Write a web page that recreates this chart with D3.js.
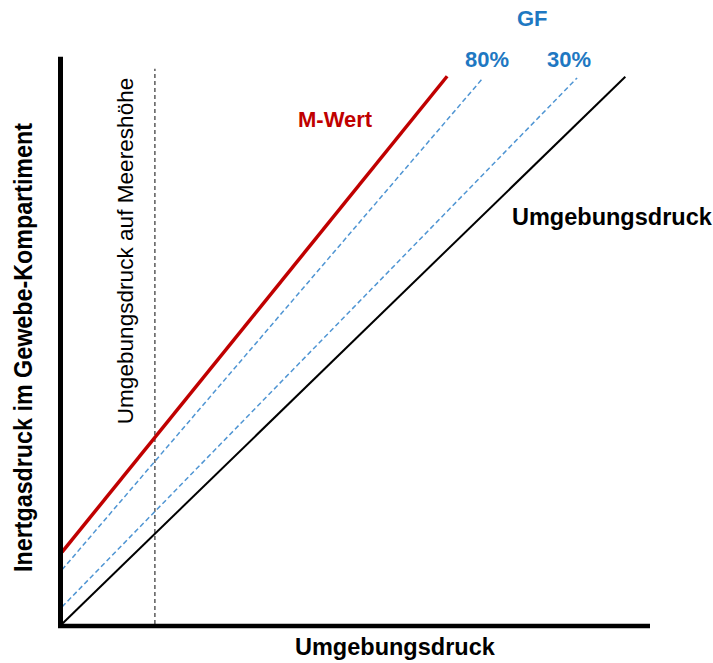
<!DOCTYPE html>
<html lang="de">
<head>
  <meta charset="UTF-8" />
  <title>M-Wert und Gradientenfaktoren</title>
  <script src="https://d3js.org/d3.v7.min.js"></script>
  <style>
    body {
      margin: 0;
      padding: 0;
      background: #fff;
      font-family: "Liberation Sans", Arial, sans-serif;
    }
    .lbl { font-weight: bold; }
  </style>
</head>
<body>
  <div id="chart"></div>

  <script>
    const width = 713;
    const height = 663;

    // line end points in data units (ambient pressure, tissue pressure)
    const ambientLine = [[0, 0], [9.58, 9.6]];
    const mValueLine = [[0, 1.26], [6.55, 9.61]];
    const gfLines = [
      { label: "80%", points: [[0, 0.95], [7.16, 9.58]] },
      { label: "30%", points: [[0, 0.30], [8.76, 9.58]] }
    ];
    const seaLevel = 1.58;
    const seaLevelTop = 9.74;

    const blue = "#1e78c2";
    const red = "#c00000";

    const svg = d3.select("#chart")
      .append("svg")
      .attr("width", width)
      .attr("height", height);

    const x = d3.scaleLinear().domain([0, 10]).range([62, 650]);
    const y = d3.scaleLinear().domain([0, 10]).range([624, 54]);

    const line = d3.line()
      .x(d => x(d[0]))
      .y(d => y(d[1]));

    // sea level marker
    svg.append("line")
      .attr("x1", x(seaLevel)).attr("x2", x(seaLevel))
      .attr("y1", y(0)).attr("y2", y(seaLevelTop))
      .attr("stroke", "#333")
      .attr("stroke-width", 1.2)
      .attr("stroke-dasharray", "4,3");

    // GF lines
    svg.selectAll(".gf")
      .data(gfLines)
      .enter()
      .append("path")
      .attr("class", "gf")
      .attr("d", d => line(d.points))
      .attr("fill", "none")
      .attr("stroke", "#4f95d3")
      .attr("stroke-width", 1.5)
      .attr("stroke-dasharray", "5,3");

    svg.append("path")
      .attr("d", line(ambientLine))
      .attr("fill", "none")
      .attr("stroke", "#000")
      .attr("stroke-width", 2);

    svg.append("path")
      .attr("d", line(mValueLine))
      .attr("fill", "none")
      .attr("stroke", red)
      .attr("stroke-width", 3.5);

    // axes (no ticks)
    svg.append("line")
      .attr("x1", x(0) - 4).attr("x2", x(10))
      .attr("y1", y(0) + 2).attr("y2", y(0) + 2)
      .attr("stroke", "#000")
      .attr("stroke-width", 4.5);

    svg.append("line")
      .attr("x1", x(0) - 1.5).attr("x2", x(0) - 1.5)
      .attr("y1", y(0) + 4).attr("y2", y(9.95))
      .attr("stroke", "#000")
      .attr("stroke-width", 5);

    // labels
    svg.append("text")
      .attr("class", "lbl")
      .attr("x", 295).attr("y", 655)
      .attr("font-size", 23.5)
      .text("Umgebungsdruck");

    svg.append("text")
      .attr("class", "lbl")
      .attr("x", 512).attr("y", 225)
      .attr("font-size", 23.5)
      .text("Umgebungsdruck");

    svg.append("text")
      .attr("class", "lbl")
      .attr("transform", "translate(32,347.5) rotate(-90)")
      .attr("text-anchor", "middle")
      .attr("font-size", 25)
      .attr("textLength", 449)
      .attr("lengthAdjust", "spacingAndGlyphs")
      .text("Inertgasdruck im Gewebe-Kompartiment");

    svg.append("text")
      .attr("transform", "translate(133,251) rotate(-90)")
      .attr("text-anchor", "middle")
      .attr("font-size", 22.6)
      .text("Umgebungsdruck auf Meereshöhe");

    svg.append("text")
      .attr("class", "lbl")
      .attr("x", 298).attr("y", 127)
      .attr("font-size", 22)
      .attr("fill", red)
      .text("M-Wert");

    svg.append("text")
      .attr("class", "lbl")
      .attr("x", 517).attr("y", 26)
      .attr("font-size", 22)
      .attr("fill", blue)
      .text("GF");

    svg.selectAll(".gfLabel")
      .data(gfLines)
      .enter()
      .append("text")
      .attr("class", "lbl gfLabel")
      .attr("x", (d, i) => i === 0 ? 465 : 547)
      .attr("y", 67)
      .attr("font-size", 22)
      .attr("fill", blue)
      .text(d => d.label);
  </script>
</body>
</html>
